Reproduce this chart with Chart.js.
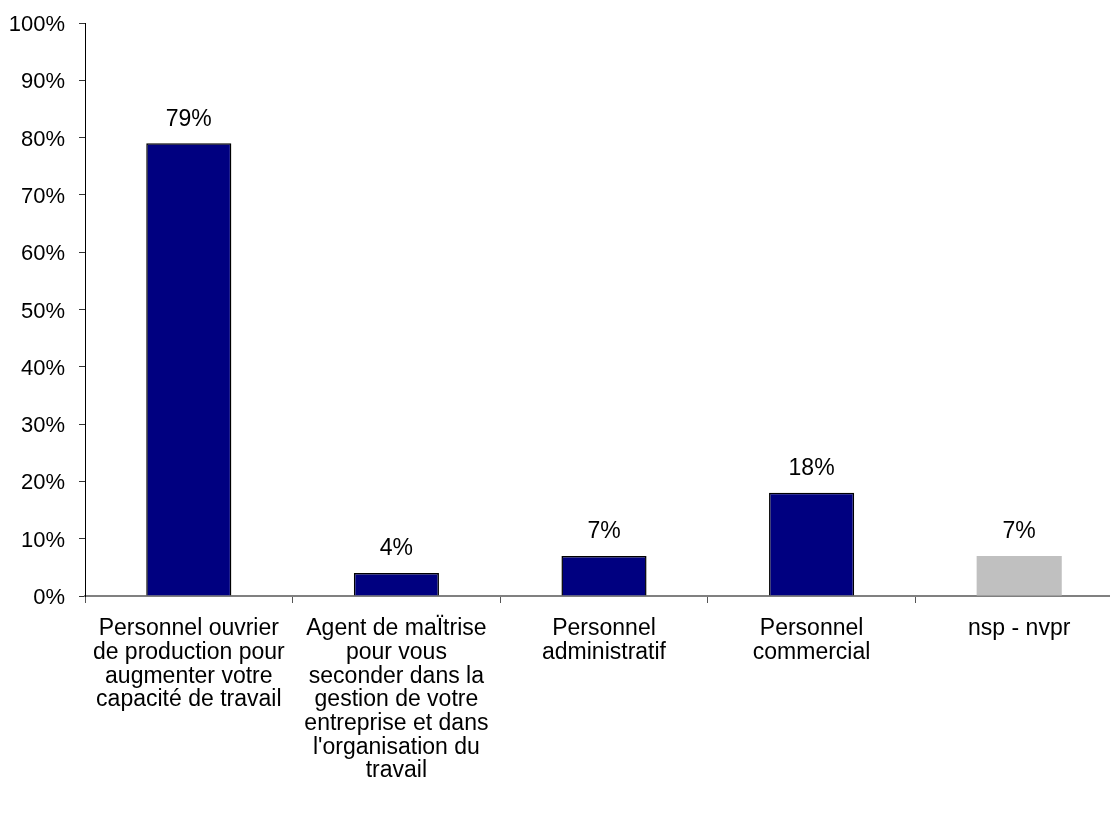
<!DOCTYPE html>
<html>
<head>
<meta charset="utf-8">
<script src="https://cdn.jsdelivr.net/npm/chart.js@4/dist/chart.umd.min.js"></script>
<style>
  html, body { margin: 0; padding: 0; background: #fff; overflow: hidden; }
  #wrap { width: 1123px; height: 822px; }
</style>
</head>
<body>
<div id="wrap"><canvas id="myChart"></canvas></div>
<script>
var categories = [
  ["Personnel ouvrier", "de production pour", "augmenter votre", "capacité de travail"],
  ["Agent de maÏtrise", "pour vous", "seconder dans la", "gestion de votre", "entreprise et dans", "l'organisation du", "travail"],
  ["Personnel", "administratif"],
  ["Personnel", "commercial"],
  ["nsp - nvpr"]
];
var values = [79, 4, 7, 18, 7];
var barColors = ["#000080", "#000080", "#000080", "#000080", "#C0C0C0"];
var borderWidths = [1.5, 1.5, 1.5, 1.5, 0];
var yTicks = [0, 10, 20, 30, 40, 50, 60, 70, 80, 90, 100];

var fontFamily = "'Liberation Sans', Arial, sans-serif";
Chart.defaults.font.family = fontFamily;
Chart.defaults.color = "#000";

// value above each bar
var valueLabels = {
  id: "valueLabels",
  afterDatasetsDraw: function (chart) {
    var ctx = chart.ctx;
    var meta = chart.getDatasetMeta(0);
    ctx.save();
    ctx.font = "23px " + fontFamily;
    ctx.fillStyle = "#000";
    ctx.textAlign = "center";
    ctx.textBaseline = "middle";
    meta.data.forEach(function (bar, i) {
      ctx.fillText(values[i] + "%", bar.x, bar.y - 24);
    });
    ctx.restore();
  }
};

new Chart("myChart", {
  type: "bar",
  data: {
    labels: categories,
    datasets: [{
      data: values,
      backgroundColor: barColors,
      borderColor: "#000",
      borderWidth: borderWidths,
      categoryPercentage: 1,
      barPercentage: 0.41
    }]
  },
  options: {
    responsive: true,
    maintainAspectRatio: false,
    animation: false,
    layout: { padding: { top: 23, right: 0, bottom: 0, left: 0 } },
    plugins: {
      legend: { display: false },
      tooltip: { enabled: false }
    },
    scales: {
      x: {
        border: { color: "#808080", width: 2 },
        grid: { drawOnChartArea: false, drawTicks: true, tickLength: 7, color: "#555", offset: true },
        ticks: {
          font: { size: 23, lineHeight: 1.03 },
          padding: 14,
          maxRotation: 0,
          autoSkip: false
        },
        afterFit: function (scale) {
          scale.height = 226;
          scale.paddingLeft = 0;
          scale.paddingRight = 0;
        }
      },
      y: {
        min: 0,
        max: 100,
        border: { color: "#000", width: 1 },
        grid: { drawOnChartArea: false, drawTicks: true, tickLength: 6, color: "#333" },
        afterBuildTicks: function (scale) {
          scale.ticks = yTicks.map(function (v) { return { value: v }; });
        },
        ticks: {
          font: { size: 22 },
          padding: 14,
          labelOffset: 2,
          callback: function (v) { return v + "%"; }
        },
        afterFit: function (scale) {
          scale.width = 85;
          scale.paddingTop = 0;
          scale.paddingBottom = 0;
        }
      }
    }
  },
  plugins: [valueLabels]
});
</script>
</body>
</html>
